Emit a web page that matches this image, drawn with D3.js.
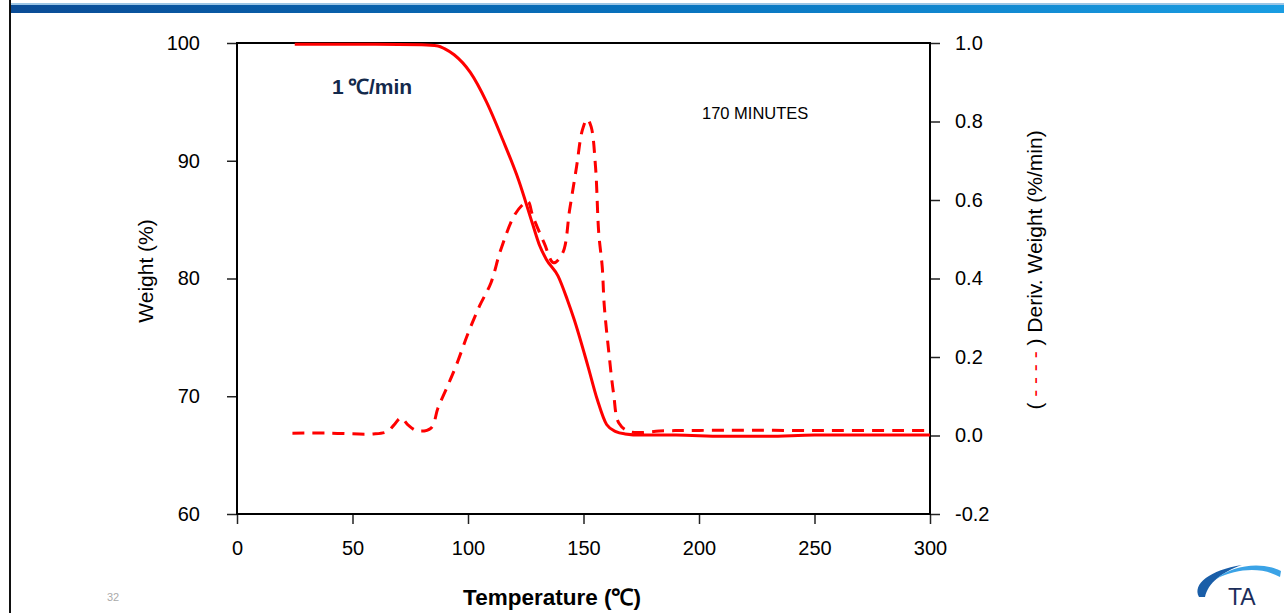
<!DOCTYPE html>
<html>
<head>
<meta charset="utf-8">
<script src="https://cdn.jsdelivr.net/npm/d3@7"></script>
<style>
  body { margin: 0; background: #fff; }
  svg { display: block; font-family: Arial, "Liberation Sans", sans-serif; }
</style>
</head>
<body>
<div id="vis"></div>
<script>
// weight curve (%)
var tempW = [25, 60, 80, 87, 90, 94, 101, 108, 115, 122, 128, 131, 134, 139, 143, 146, 152, 156, 160, 164, 168, 175, 190, 210, 230, 250, 270, 300];
var weight = [99.9, 99.9, 99.85, 99.75, 99.5, 99.0, 97.5, 95.0, 91.8, 88.3, 84.6, 82.8, 81.6, 80.2, 78.2, 76.5, 72.5, 69.7, 67.6, 67.0, 66.8, 66.7, 66.7, 66.6, 66.6, 66.7, 66.7, 66.7];

// derivative curve (%/min)
var tempD = [24, 40, 59, 65, 68, 71, 74, 78, 84, 87, 91, 95, 100, 105, 110, 114, 120, 124, 126, 128, 133, 137, 141, 144, 147, 149.5, 151.6, 153.3, 155.2, 156.6, 158.1, 159, 161, 163, 165.3, 170, 185, 200, 250, 300];
var deriv = [0.006, 0.006, 0.004, 0.01, 0.027, 0.045, 0.027, 0.012, 0.019, 0.07, 0.124, 0.18, 0.26, 0.33, 0.39, 0.47, 0.56, 0.59, 0.596, 0.56, 0.49, 0.44, 0.465, 0.575, 0.685, 0.778, 0.806, 0.787, 0.685, 0.516, 0.43, 0.33, 0.21, 0.108, 0.032, 0.01, 0.012, 0.013, 0.013, 0.013];

var xTicks = [0, 50, 100, 150, 200, 250, 300];
var yLeftTicks = [60, 70, 80, 90, 100];
var yRightTicks = [-0.2, 0, 0.2, 0.4, 0.6, 0.8, 1.0];

var W = 1284, H = 613;
var plot = {left: 237, right: 930, top: 43, bottom: 514};
var red = "#ff0000";

var svg = d3.select("#vis").append("svg")
  .attr("width", W)
  .attr("height", H);

// slide banner + left border
var defs = svg.append("defs");
var grad = defs.append("linearGradient").attr("id", "band");
grad.append("stop").attr("offset", "0%").attr("stop-color", "#0a4c96");
grad.append("stop").attr("offset", "50%").attr("stop-color", "#0872bd");
grad.append("stop").attr("offset", "100%").attr("stop-color", "#1a9de2");
svg.append("rect").attr("x", 10).attr("y", 3).attr("width", W - 10).attr("height", 2).attr("fill", "#9cc6e6");
svg.append("rect").attr("x", 10).attr("y", 5).attr("width", W - 10).attr("height", 8).attr("fill", "url(#band)");
svg.append("rect").attr("x", 9).attr("y", 0).attr("width", 2).attr("height", H).attr("fill", "#111");

var x = d3.scaleLinear().domain([0, 300]).range([plot.left, plot.right]);
var yL = d3.scaleLinear().domain([60, 100]).range([plot.bottom, plot.top]);
var yR = d3.scaleLinear().domain([-0.2, 1.0]).range([plot.bottom, plot.top]);

// plain hyphen for negatives, like the original
var fmtR = function(d) { return d3.format(".1f")(d).replace("\u2212", "-"); };

var gx = svg.append("g").attr("transform", `translate(0,${plot.bottom})`)
  .call(d3.axisBottom(x).tickValues(xTicks).tickSize(10).tickPadding(17).tickFormat(d3.format("d")));
var gl = svg.append("g").attr("transform", `translate(${plot.left},0)`)
  .call(d3.axisLeft(yL).tickValues(yLeftTicks).tickSize(10).tickPadding(27).tickFormat(d3.format("d")));
var gr = svg.append("g").attr("transform", `translate(${plot.right},0)`)
  .call(d3.axisRight(yR).tickValues(yRightTicks).tickSize(10).tickPadding(15).tickFormat(fmtR));

[gx, gl, gr].forEach(function(g) {
  g.select(".domain").remove();
  g.selectAll(".tick line").attr("stroke", "#222").attr("stroke-width", 1.5);
  g.selectAll(".tick text").attr("fill", "#000").style("font-size", "20px")
    .style("font-family", "Arial, 'Liberation Sans', sans-serif");
});

// plot frame
svg.append("rect")
  .attr("x", plot.left).attr("y", plot.top)
  .attr("width", plot.right - plot.left).attr("height", plot.bottom - plot.top)
  .attr("fill", "none").attr("stroke", "#000").attr("stroke-width", 2);

// curves
var lineW = d3.line().x(function(d, i) { return x(tempW[i]); }).y(function(d) { return yL(d); }).curve(d3.curveMonotoneX);
var lineD = d3.line().x(function(d, i) { return x(tempD[i]); }).y(function(d) { return yR(d); }).curve(d3.curveCatmullRom.alpha(0.5));

svg.append("path").datum(deriv)
  .attr("d", lineD)
  .attr("fill", "none").attr("stroke", red).attr("stroke-width", 3)
  .attr("stroke-dasharray", "12,8");

svg.append("path").datum(weight)
  .attr("d", lineW)
  .attr("fill", "none").attr("stroke", red).attr("stroke-width", 3);

// annotations
svg.append("text").attr("x", 332).attr("y", 94)
  .attr("fill", "#13294b").style("font-size", "21px").style("font-weight", "bold")
  .text("1\u2009℃/min");
svg.append("text").attr("x", 702).attr("y", 119)
  .attr("fill", "#000").style("font-size", "16.5px")
  .text("170 MINUTES");

// axis titles
svg.append("text").attr("transform", "translate(153,271) rotate(-90)")
  .attr("text-anchor", "middle").style("font-size", "21px").text("Weight (%)");

var rt = svg.append("text").attr("transform", "translate(1042,270) rotate(-90)")
  .attr("text-anchor", "middle").style("font-size", "21px");
rt.append("tspan").text("( ");
rt.append("tspan").attr("fill", red).text("- - - -");
rt.append("tspan").text(" )  Deriv. Weight (%/min)");

svg.append("text").attr("x", 552).attr("y", 605)
  .attr("text-anchor", "middle").style("font-size", "22.5px").style("font-weight", "bold")
  .text("Temperature (℃)");

svg.append("text").attr("x", 113).attr("y", 601)
  .attr("text-anchor", "middle").attr("fill", "#aaa").style("font-size", "11px").text("32");

// TA logo
var logo = svg.append("g");
logo.append("path")
  .attr("d", "M1199,597 C1192,584 1210,570 1242,565 C1222,572 1208,583 1205,597 Z")
  .attr("fill", "#1a5ea8");
logo.append("path")
  .attr("d", "M1216,579 C1232,565 1262,561 1281,571 L1280,577 C1262,567 1238,568 1216,579 Z")
  .attr("fill", "#3ba3e6");
logo.append("text").attr("x", 1228).attr("y", 605)
  .attr("fill", "#1c2d5a").style("font-size", "23px").text("TA");
</script>
</body>
</html>
